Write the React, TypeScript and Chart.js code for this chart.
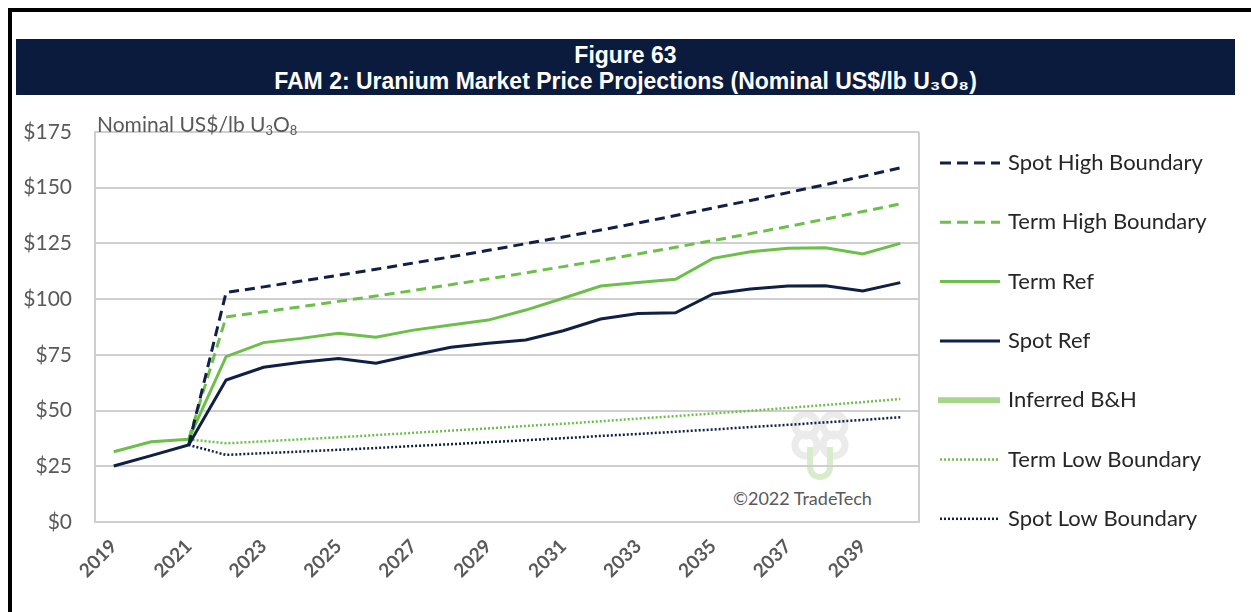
import React, { useEffect, useRef } from 'react';
import { Chart, registerables } from 'chart.js';

Chart.register(...registerables);

// ---------- data ----------
const years = ['2019','2020','2021','2022','2023','2024','2025','2026','2027','2028','2029','2030','2031','2032','2033','2034','2035','2036','2037','2038','2039','2040'];

const spotHigh = [null, null, 34.6, 103.0, 105.5, 108.1, 110.7, 113.4, 116.2, 119.0, 121.9, 124.9, 127.9, 131.0, 134.2, 137.5, 140.9, 144.3, 147.8, 151.4, 155.1, 158.9];
const termHigh = [null, null, 37.1, 92.0, 94.3, 96.6, 99.0, 101.4, 103.9, 106.5, 109.1, 111.8, 114.6, 117.4, 120.3, 123.3, 126.3, 129.4, 132.6, 135.9, 139.3, 142.7];
const termRef = [31.5, 36.0, 37.1, 74.2, 80.5, 82.4, 84.7, 82.9, 86.1, 88.4, 90.6, 95.1, 100.4, 105.9, 107.5, 108.9, 118.3, 121.3, 122.8, 123.1, 120.3, 125.0];
const spotRef = [25.1, 29.8, 34.6, 63.7, 69.4, 71.7, 73.4, 71.2, 74.9, 78.4, 80.2, 81.7, 85.8, 91.1, 93.6, 93.9, 102.3, 104.5, 105.9, 106.0, 103.7, 107.4];
const inferredBH = [null, null, null, null, null, null, null, null, null, null, null, null, null, null, null, null, null, null, null, null, null, null];
const termLow = [null, null, 37.1, 35.3, 36.2, 37.1, 38.0, 39.0, 40.0, 41.0, 42.0, 43.1, 44.1, 45.2, 46.4, 47.5, 48.7, 49.9, 51.2, 52.5, 53.8, 55.2];
const spotLow = [null, null, 34.6, 30.1, 30.9, 31.6, 32.4, 33.2, 34.1, 34.9, 35.8, 36.7, 37.6, 38.6, 39.5, 40.5, 41.5, 42.6, 43.6, 44.7, 45.8, 47.0];

const yTicks = [0, 25, 50, 75, 100, 125, 150, 175];

// ---------- styles ----------
const NAVY = '#0f1f45';
const GREEN = '#6cc04a';
const LIGHT_GREEN = '#a6d68c';
const GRAY = '#595959';
const GRID = '#cfcfcf';
const FONT = 'Lato, "Noto Sans", sans-serif';

const sideLegend = {
  id: 'sideLegend',
  afterDraw(chart: any, _args: any, opts: any) {
    const ctx = chart.ctx;
    chart.data.datasets.forEach((ds: any, i: number) => {
      const y = opts.top + i * opts.spacing;
      ctx.save();
      ctx.strokeStyle = ds.borderColor;
      ctx.lineWidth = ds.legendWidth ?? ds.borderWidth;
      ctx.setLineDash(ds.legendDash ?? ds.borderDash ?? []);
      ctx.beginPath();
      ctx.moveTo(opts.x - (ds.legendWidth ? 2 : 0), y);
      ctx.lineTo(opts.x + opts.lineLen, y);
      ctx.stroke();
      ctx.setLineDash([]);
      ctx.fillStyle = opts.color;
      ctx.font = opts.font;
      ctx.textBaseline = 'middle';
      ctx.fillText(ds.label, opts.x + opts.lineLen + opts.gap, y);
      ctx.restore();
    });
  },
};

const plotBorder = {
  id: 'plotBorder',
  beforeDatasetsDraw(chart: any) {
    const { ctx, chartArea } = chart;
    ctx.save();
    ctx.strokeStyle = GRID;
    ctx.lineWidth = 2;
    ctx.beginPath();
    ctx.moveTo(chartArea.right, chartArea.top);
    ctx.lineTo(chartArea.right, chartArea.bottom);
    ctx.stroke();
    ctx.restore();
  },
};

function ChartView() {
  const ref = useRef<HTMLCanvasElement>(null);
  useEffect(() => {
    if (!ref.current) return;
    const chart = new Chart(ref.current, {
      type: 'line',
      data: {
        labels: years,
        datasets: [
          { label: 'Spot High Boundary', data: spotHigh, borderColor: NAVY, borderWidth: 3, borderDash: [10, 6], legendDash: [11, 6] },
          { label: 'Term High Boundary', data: termHigh, borderColor: GREEN, borderWidth: 3, borderDash: [10, 6], legendDash: [11, 6] },
          { label: 'Term Ref', data: termRef, borderColor: GREEN, borderWidth: 3 },
          { label: 'Spot Ref', data: spotRef, borderColor: NAVY, borderWidth: 3 },
          { label: 'Inferred B&H', data: inferredBH, borderColor: LIGHT_GREEN, borderWidth: 6, legendWidth: 6 },
          { label: 'Term Low Boundary', data: termLow, borderColor: GREEN, borderWidth: 2.5, borderDash: [2, 2] },
          { label: 'Spot Low Boundary', data: spotLow, borderColor: NAVY, borderWidth: 2.5, borderDash: [2, 2] },
        ] as any,
      },
      options: {
        animation: false,
        responsive: false,
        maintainAspectRatio: false,
        spanGaps: false,
        elements: { point: { radius: 0, hoverRadius: 0 }, line: { tension: 0, borderCapStyle: 'butt', fill: false } },
        layout: { padding: { top: 132, right: 332, bottom: 0, left: 0 } },
        plugins: {
          legend: { display: false },
          tooltip: { enabled: false },
          title: { display: false },
          sideLegend: {
            x: 940, lineLen: 60, gap: 8, top: 163, spacing: 59.3,
            font: '22px ' + FONT, color: '#262626',
          },
        } as any,
        scales: {
          x: {
            offset: true,
            grid: { display: false, drawTicks: false },
            border: { display: true, color: GRID, width: 2 },
            ticks: {
              autoSkip: false,
              minRotation: 45,
              maxRotation: 45,
              padding: 13,
              color: GRAY,
              font: { family: FONT, size: 19, weight: 'bold' },
              callback: (_v: any, i: number) => (i % 2 === 0 ? years[i] : ''),
            },
            afterFit: (s: any) => { s.height = 90; },
          },
          y: {
            min: 0,
            max: 175,
            afterBuildTicks: (s: any) => { s.ticks = yTicks.map((v) => ({ value: v })); },
            grid: { color: GRID, lineWidth: 2, drawTicks: false },
            border: { display: true, color: GRID, width: 2 },
            ticks: {
              padding: 23,
              color: GRAY,
              font: { family: FONT, size: 21 },
              callback: (v: any) => '$' + v,
            },
            afterFit: (s: any) => { s.width = 95; },
          },
        },
      },
      plugins: [sideLegend, plotBorder],
    });
    return () => chart.destroy();
  }, []);
  return <canvas ref={ref} width={1251} height={612} style={{ position: 'absolute', left: 0, top: 0, width: 1251, height: 612 }} />;
}

export default function App() {
  return (
    <div style={{ position: 'fixed', inset: 0, overflow: 'hidden', background: '#fff' }}>
      <div style={{ position: 'absolute', left: 8, top: 8, width: 1300, height: 700, borderTop: '4px solid #000', borderLeft: '4px solid #000' }} />
      <div
        style={{
          position: 'absolute', left: 16, top: 39, width: 1219, height: 56, background: '#0b1b3d', color: '#fff',
          fontFamily: '"Liberation Sans", Arial, sans-serif', fontWeight: 'bold', fontSize: 23, lineHeight: '26px',
          textAlign: 'center', paddingTop: 3, boxSizing: 'border-box',
        }}
      >
        <div>Figure 63</div>
        <div>FAM 2: Uranium Market Price Projections (Nominal US$/lb U₃O₈)</div>
      </div>
      {/* watermark */}
      <svg width={70} height={80} style={{ position: 'absolute', left: 785, top: 405 }}>
        <g fill="none" stroke="#e3e3e3" strokeWidth={7} opacity={0.7}>
          <circle cx={21} cy={20} r={11} />
          <circle cx={49} cy={20} r={11} />
          <circle cx={21} cy={40} r={11} />
          <circle cx={49} cy={40} r={11} />
        </g>
        <path d="M 25 42 L 25 62 A 10 10 0 0 0 45 62 L 45 42" fill="none" stroke="#d6ecca" strokeWidth={6} />
      </svg>
      <div style={{ position: 'absolute', left: 733, top: 487, fontFamily: FONT, fontSize: 18, color: GRAY, lineHeight: '22px' }}>
        ©2022 TradeTech
      </div>
      <ChartView />
      <div style={{ position: 'absolute', left: 97, top: 112, fontFamily: FONT, fontSize: 21, color: GRAY, lineHeight: '24px', whiteSpace: 'nowrap' }}>
        Nominal US$/lb U<sub style={{ fontSize: 13, verticalAlign: '-3px' }}>3</sub>O<sub style={{ fontSize: 13, verticalAlign: '-3px' }}>8</sub>
      </div>
    </div>
  );
}
